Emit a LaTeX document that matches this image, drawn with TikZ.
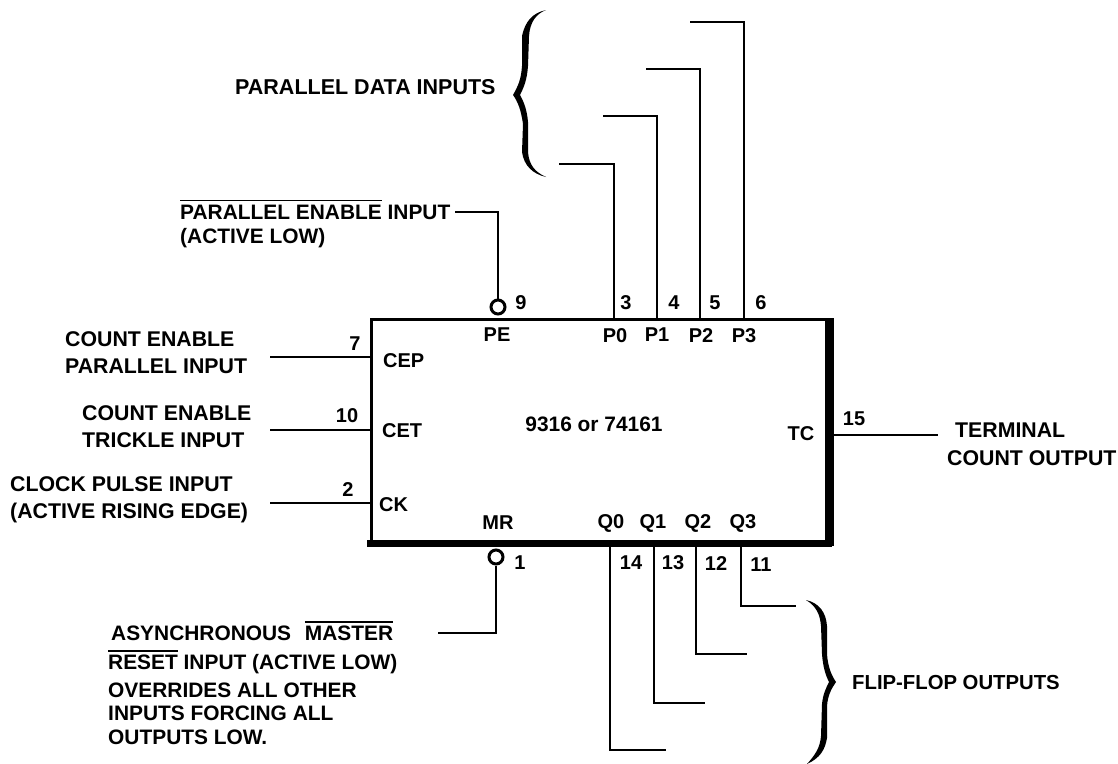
\documentclass[tikz,border=0pt]{standalone}
\usepackage{fontspec}
\setmainfont{Liberation Sans}
\newcommand{\ovl}[1]{\leavevmode\vbox{\hrule height 1.6pt \kern 3.5pt \hbox{#1}}}
\tikzset{
  x=1pt,y=-1pt,
  lab/.style={font=\bfseries\fontsize{20}{26}\selectfont,inner sep=0pt,text=black,align=left},
  labb/.style={lab,font=\bfseries\fontsize{21.3}{26}\selectfont},
  labm/.style={lab,font=\bfseries\fontsize{20.9}{26}\selectfont},
  wire/.style={draw=black,line width=2.3pt,line join=miter},
  bub/.style={circle,draw=black,line width=3pt,fill=white,minimum size=14pt,inner sep=0pt},
  chip/.style={draw=black,line width=3pt,rectangle,minimum width=461pt,minimum height=225pt,anchor=north west,inner sep=0pt},
  heavy/.style={draw=black,line width=7pt},
  curly/.style={fill=black,draw=none}
}
\begin{document}
\begin{tikzpicture}
\useasboundingbox (0,0) rectangle (1118,763);
\node[chip] (ic) at (370,318) {};
\draw[heavy] (828,318) -- (828,546);
\draw[heavy] (367,543) -- (832,543);
\node[labm,anchor=center] (name) at (594,424) {9316 or 74161};
% Pin names
\node[lab,anchor=center] (nPE) at (497,335) {PE};
\node[lab,anchor=center] (nP0) at (615,336) {P0};
\node[lab,anchor=center] (nP1) at (657,335) {P1};
\node[lab,anchor=center] (nP2) at (701,336) {P2};
\node[lab,anchor=center] (nP3) at (744,336) {P3};
\node[lab,anchor=west] (nCEP) at (383,361) {CEP};
\node[lab,anchor=west] (nCET) at (382,431) {CET};
\node[lab,anchor=west] (nCK) at (379,505) {CK};
\node[lab,anchor=center] (nTC) at (801,434) {TC};
\node[lab,anchor=center] (nMR) at (498,523) {MR};
\node[lab,anchor=center] (nQ0) at (611,523) {Q0};
\node[lab,anchor=center] (nQ1) at (653,523) {Q1};
\node[lab,anchor=center] (nQ2) at (698,523) {Q2};
\node[lab,anchor=center] (nQ3) at (743,523) {Q3};
% Pin numbers
\node[lab] (p9) at (521,303) {9};
\node[lab] (p3) at (626,303) {3};
\node[lab] (p4) at (674,303) {4};
\node[lab] (p5) at (715,303) {5};
\node[lab] (p6) at (761,303) {6};
\node[lab] (p7) at (355,344) {7};
\node[lab] (p10) at (347,416) {10};
\node[lab] (p2) at (348,490) {2};
\node[lab] (p15) at (854,419) {15};
\node[lab] (p1) at (520,563) {1};
\node[lab] (p14) at (631,563) {14};
\node[lab] (p13) at (673,563) {13};
\node[lab] (p12) at (716,564) {12};
\node[lab] (p11) at (761,565) {11};
% Pin coordinates on the chip
\coordinate (aP0) at (614,318);
\coordinate (aP1) at (657,318);
\coordinate (aP2) at (700,318);
\coordinate (aP3) at (744,318);
\coordinate (aQ0) at (610,543);
\coordinate (aQ1) at (654,543);
\coordinate (aQ2) at (696,543);
\coordinate (aQ3) at (741,543);
\coordinate (aCEP) at (370,357);
\coordinate (aCET) at (370,430);
\coordinate (aCK) at (370,503);
\coordinate (aTC) at (830,435);
% Free ends
\coordinate (eP0) at (559,164);
\coordinate (eP1) at (603,116);
\coordinate (eP2) at (646,69);
\coordinate (eP3) at (690,22);
\coordinate (eQ0) at (666,750);
\coordinate (eQ1) at (705,703);
\coordinate (eQ2) at (747,654);
\coordinate (eQ3) at (796,606);
\coordinate (ePE) at (455,212);
\coordinate (eMR) at (438,633);
\coordinate (eCEP) at (270,357);
\coordinate (eCET) at (270,430);
\coordinate (eCK) at (270,503);
\coordinate (eTC) at (938,435);
% Bubbles
\node[bub] (bPE) at (498,307) {};
\node[bub] (bMR) at (496,557) {};
% Connectors
\draw[wire] (aP0) |- (eP0);
\draw[wire] (aP1) |- (eP1);
\draw[wire] (aP2) |- (eP2);
\draw[wire] (aP3) |- (eP3);
\draw[wire] (aQ0) |- (eQ0);
\draw[wire] (aQ1) |- (eQ1);
\draw[wire] (aQ2) |- (eQ2);
\draw[wire] (aQ3) |- (eQ3);
\draw[wire] (bPE) |- (ePE);
\draw[wire] (bMR) |- (eMR);
\draw[wire] (aCEP) -- (eCEP);
\draw[wire] (aCET) -- (eCET);
\draw[wire] (aCK) -- (eCK);
\draw[wire] (aTC) -- (eTC);
% Braces
\fill[curly] (546,10) .. controls (532,13) and (525,22) .. (522,36)
  -- (522,66) .. controls (521,80) and (518,86) .. (513,95)
  .. controls (518,102) and (521,110) .. (523,124)
  -- (522,152) .. controls (524,166) and (533,174) .. (546,177)
  .. controls (535,172) and (529,165) .. (528,152)
  -- (528,122) .. controls (527,110) and (524,102) .. (520,95)
  .. controls (524,87) and (527,80) .. (528,66)
  -- (529,36) .. controls (530,22) and (536,14) .. (546,10) -- cycle;
\fill[curly] (806,600) .. controls (819,603) and (826,612) .. (827,626)
  -- (827,654) .. controls (828,668) and (832,676) .. (836,682)
  .. controls (832,688) and (828,694) .. (827,706)
  -- (827,738) .. controls (825,750) and (820,758) .. (807,764)
  .. controls (815,755) and (820,748) .. (821,736)
  -- (822,704) .. controls (823,694) and (826,688) .. (829,682)
  .. controls (826,676) and (823,668) .. (822,654)
  -- (821,626) .. controls (820,614) and (816,606) .. (806,600) -- cycle;
% Descriptions
\node[lab,font=\bfseries\fontsize{21.5}{26}\selectfont,anchor=west] (tData) at (235,87) {PARALLEL DATA INPUTS};
\node[labm,anchor=north west] (tPE) at (180,199.5) {\ovl{PARALLEL ENABLE} INPUT\\[-2pt](ACTIVE LOW)};
\node[labb,anchor=west] (tCEP) at (65,352.5) {COUNT ENABLE\\[1pt]PARALLEL INPUT};
\node[labb,anchor=west] (tCET) at (82,426.5) {COUNT ENABLE\\[1pt]TRICKLE INPUT};
\node[labb,anchor=west] (tCK) at (10,499.5) {CLOCK PULSE INPUT\\[1pt](ACTIVE RISING EDGE)};
\node[labb,anchor=north west] (tTC) at (947,423) {\hspace*{8pt}TERMINAL\\[2pt]COUNT OUTPUT};
\node[labm,anchor=north west] (tMR) at (108,621) {\hspace*{3pt}ASYNCHRONOUS\hspace{8pt} \ovl{MASTER}\\[3pt]\ovl{RESET} INPUT (ACTIVE LOW)\\[2pt]OVERRIDES ALL OTHER\\[-3pt]INPUTS FORCING ALL\\[-2pt]OUTPUTS LOW.};
\node[lab,font=\bfseries\fontsize{20.3}{26}\selectfont,anchor=west] (tFF) at (852,682) {FLIP-FLOP OUTPUTS};
\end{tikzpicture}
\end{document}
